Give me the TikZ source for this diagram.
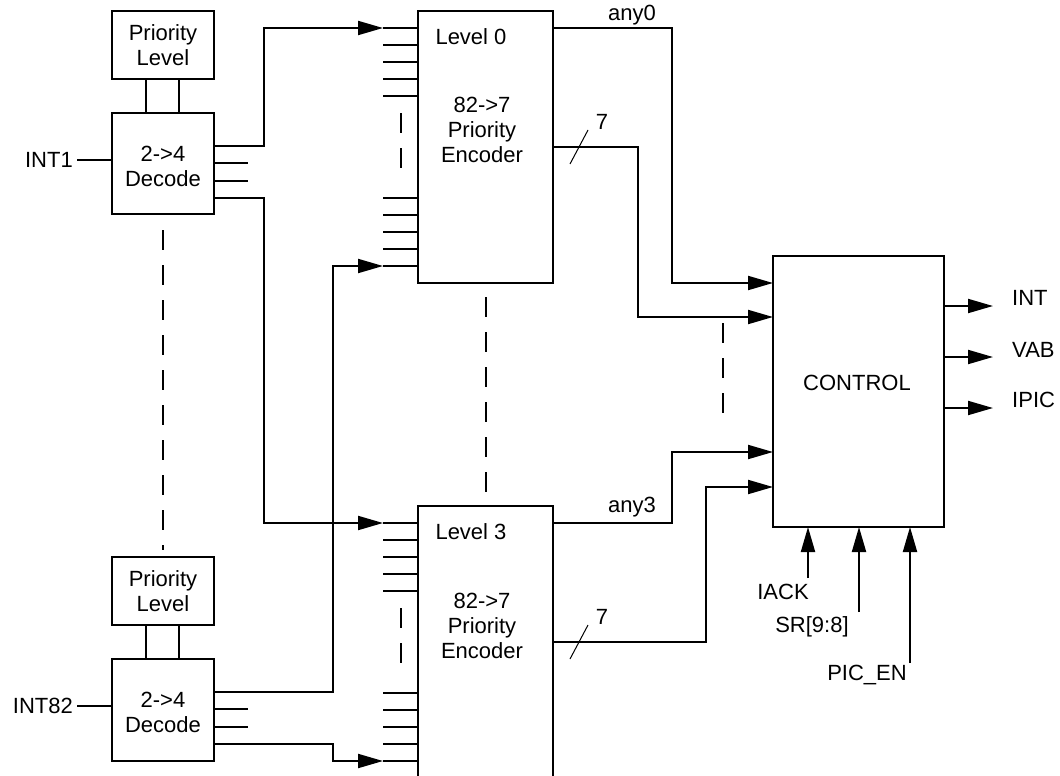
\documentclass[tikz,border=0pt]{standalone}
\usepackage{fontspec}
\setmainfont{Liberation Sans}
\usetikzlibrary{arrows.meta, positioning, calc}

\tikzset{
  blk/.style={draw, line width=2pt, outer sep=0pt, inner sep=0pt, align=center},
  wire/.style={line width=2pt},
  sig/.style={wire, -{Triangle[length=25pt, width=14pt]}},
  dashline/.style={wire, dash pattern=on 20pt off 15pt},
  lbl/.style={inner sep=0pt, align=center},
}

\begin{document}
\begin{tikzpicture}[x=1pt, y=-1pt, font=\fontsize{22}{25}\selectfont]
  \useasboundingbox (0,0) rectangle (1060,776);

  % Priority level + decoders
  \node[blk, minimum width=102pt, minimum height=68pt]  (prio1) at (163,45)    {Priority\\Level};
  \node[blk, minimum width=102pt, minimum height=101pt, text height=46pt] (dec1) at (163,163.5) {2->4\\Decode};
  \node[blk, minimum width=102pt, minimum height=68pt]  (prio2) at (163,591)   {Priority\\Level};
  \node[blk, minimum width=102pt, minimum height=102pt, text height=46pt] (dec2) at (163,710) {2->4\\Decode};

  \foreach \p/\d in {prio1/dec1, prio2/dec2} {
    \draw[wire] ([xshift=-17pt]\p.south) -- ([xshift=-17pt]\d.north);
    \draw[wire] ([xshift=16pt]\p.south)  -- ([xshift=16pt]\d.north);
  }

  \node[lbl, anchor=east, inner xsep=4pt] (int1)  at (77,160) {INT1};
  \node[lbl, anchor=east, inner xsep=4pt] (int82) at (77,706) {INT82};
  \draw[wire] (int1.east)  -- (int1.east -| dec1.west);
  \draw[wire] (int82.east) -- (int82.east -| dec2.west);

  % Priority encoders
  \node[blk, minimum width=135pt, minimum height=272pt] (lv0) at (485.5,147) {};
  \node[blk, minimum width=135pt, minimum height=290pt] (lv3) at (485.5,651) {};
  \node[lbl] (lv0-name) at (471,37)  {Level 0};
  \node[lbl] (lv0-txt)  at (482,130) {82->7\\Priority\\Encoder};
  \node[lbl] (lv3-name) at (471,532) {Level 3};
  \node[lbl] (lv3-txt)  at (482,626) {82->7\\Priority\\Encoder};

  \foreach \d in {17,34,51,68,85,187,204,221,238,255} {
    \draw[wire] ([yshift=-\d pt]lv0.north west) -- ++(-35,0);
    \draw[wire] ([yshift=-\d pt]lv3.north west) -- ++(-35,0);
  }
  \draw[dashline] ([xshift=-17pt,yshift=-102pt]lv0.north west) -- ++(0,70);
  \draw[dashline] ([xshift=-17pt,yshift=-102pt]lv3.north west) -- ++(0,70);

  \foreach \b in {lv0, lv3} {
    \coordinate (\b-top) at ([xshift=-35pt,yshift=-17pt]\b.north west);
    \coordinate (\b-bot) at ([xshift=-35pt,yshift=-255pt]\b.north west);
    \coordinate (\b-any) at ([yshift=-17pt]\b.north east);
    \coordinate (\b-enc) at ([yshift=-136pt]\b.north east);
  }

  % decoder outputs
  \foreach \b in {dec1, dec2} {
    \foreach \n/\d in {a/33, b/50, c/68, d/85}
      \coordinate (\b-\n) at ([yshift=-\d pt]\b.north east);
    \draw[wire] (\b-b) -- ++(34,0);
    \draw[wire] (\b-c) -- ++(34,0);
  }
  \draw[sig] (dec1-a) -- ++(50,0)  |- (lv0-top);
  \draw[sig] (dec1-d) -- ++(50,0)  |- (lv3-top);
  \draw[sig] (dec2-a) -- ++(119,0) |- (lv0-bot);
  \draw[sig] (dec2-d) -- ++(119,0) |- (lv3-bot);

  \draw[dashline] ([yshift=-16pt]dec1.south) -- ([yshift=7pt]prio2.north);
  \draw[dashline] ([yshift=-14pt]lv0.south) -- (lv3.north);

  % Control block
  \node[blk, minimum width=171pt, minimum height=271pt] (ctl) at (858.5,391.5) {};
  \node[lbl] (ctl-txt) at (857,383) {CONTROL};

  \foreach \n/\d in {1/27, 2/61, 3/196, 4/231}
    \coordinate (ctl-in\n) at ([yshift=-\d pt]ctl.north west);
  \foreach \n/\d in {1/50, 2/101, 3/152}
    \coordinate (ctl-out\n) at ([yshift=-\d pt]ctl.north east);
  \foreach \n/\d in {1/35, 2/86, 3/137}
    \coordinate (ctl-b\n) at ([xshift=\d pt]ctl.south west);

  \draw[sig] (lv0-any) -- ++(119,0) |- (ctl-in1);
  \draw[sig] (lv0-enc) -- ++(85,0)  |- (ctl-in2);
  \draw[sig] (lv3-any) -- ++(119,0) |- (ctl-in3);
  \draw[sig] (lv3-enc) -- ++(153,0) |- (ctl-in4);
  \draw[dashline] ([xshift=-50pt,yshift=-6pt]ctl-in2) -- ([xshift=-50pt,yshift=27pt]ctl-in3);

  \node[lbl] (any0) at (632,15)  {any0};
  \node[lbl] (any3) at (632,507) {any3};
  \node[lbl] (bus0) at (602,122) {7};
  \node[lbl] (bus3) at (602,617) {7};
  \draw[line width=1pt] ([xshift=17pt,yshift=-17pt]lv0-enc) -- ++(18,-34);
  \draw[line width=1pt] ([xshift=17pt,yshift=-17pt]lv3-enc) -- ++(18,-34);

  % outputs
  \node[lbl, anchor=west] (int)  at (1012,298) {INT};
  \node[lbl, anchor=west] (vab)  at (1012,350) {VAB};
  \node[lbl, anchor=west] (ipic) at (1012,400) {IPIC};
  \draw[sig] (ctl-out1) -- ([xshift=-19pt]ctl-out1 -| int.west);
  \draw[sig] (ctl-out2) -- ([xshift=-19pt]ctl-out2 -| vab.west);
  \draw[sig] (ctl-out3) -- ([xshift=-19pt]ctl-out3 -| ipic.west);

  % bottom inputs
  \node[lbl] (iack)  at (783,592) {IACK};
  \node[lbl] (sr)    at (812,627) {SR[9:8]};
  \node[lbl] (picen) at (867,675) {PIC\_EN};
  \draw[sig] ([yshift=-51pt]ctl-b1)  -- (ctl-b1);
  \draw[sig] ([yshift=-85pt]ctl-b2)  -- (ctl-b2);
  \draw[sig] ([yshift=-136pt]ctl-b3) -- (ctl-b3);

\end{tikzpicture}
\end{document}
